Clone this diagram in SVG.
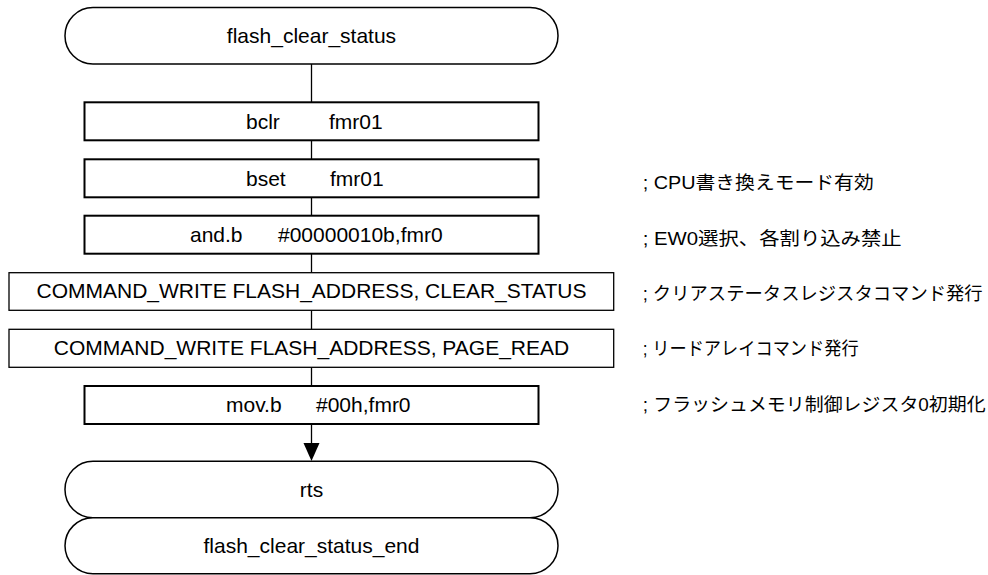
<svg xmlns="http://www.w3.org/2000/svg" width="988" height="575" viewBox="0 0 988 575">
<style>
.term{fill:#fff;stroke:#000;stroke-width:1.5}
.box{fill:#fff;stroke:#000;stroke-width:2}
.wbox{fill:#fff;stroke:#000;stroke-width:1.3}
.t{font-family:"Liberation Sans",Arial,sans-serif;font-size:21px;fill:#000}
.c{text-anchor:middle}
.cm{font-family:"Liberation Sans","Noto Sans CJK JP",sans-serif;font-size:18.5px;fill:#000}
.ln{stroke:#000;stroke-width:1.3;fill:none}
</style>
<rect width="988" height="575" fill="#fff"/>
<g id="connectors">
<line class="ln" x1="311.5" y1="64" x2="311.5" y2="102.3"/>
<line class="ln" x1="311.5" y1="140.3" x2="311.5" y2="159.3"/>
<line class="ln" x1="311.5" y1="197.3" x2="311.5" y2="215.7"/>
<line class="ln" x1="311.5" y1="253.7" x2="311.5" y2="272.7"/>
<line class="ln" x1="311.5" y1="310.3" x2="311.5" y2="329.3"/>
<line class="ln" x1="311.5" y1="367.3" x2="311.5" y2="386"/>
<line class="ln" x1="311.5" y1="424" x2="311.5" y2="444"/>
<polygon points="303.5,443 319.5,443 311.5,461" fill="#000"/>
</g>
<g id="start">
<rect class="term" x="65" y="7.5" width="493" height="56.5" rx="28" ry="28"/>
<text class="t c" x="311.5" y="43">flash_clear_status</text>
</g>
<g id="bclr">
<rect class="box" x="84.5" y="102.3" width="454" height="38"/>
<text class="t" y="128.5"><tspan x="246">bclr</tspan><tspan x="329">fmr01</tspan></text>
</g>
<g id="bset">
<rect class="box" x="84.5" y="159.3" width="454" height="38"/>
<text class="t" y="185.5"><tspan x="246">bset</tspan><tspan x="330">fmr01</tspan></text>
<text class="cm" x="642.7" y="189" textLength="231" lengthAdjust="spacingAndGlyphs">; CPU書き換えモード有効</text>
</g>
<g id="andb">
<rect class="box" x="84.5" y="215.7" width="454" height="38"/>
<text class="t" y="242"><tspan x="190">and.b</tspan><tspan x="278">#00000010b,fmr0</tspan></text>
<text class="cm" x="642.7" y="244.5" textLength="259" lengthAdjust="spacingAndGlyphs">; EW0選択、各割り込み禁止</text>
</g>
<g id="cmd_clear">
<rect class="wbox" x="9" y="272.7" width="604.7" height="37.6"/>
<text class="t c" x="311.5" y="298">COMMAND_WRITE FLASH_ADDRESS, CLEAR_STATUS</text>
<text class="cm" x="642.7" y="299.5" textLength="340" lengthAdjust="spacingAndGlyphs">; クリアステータスレジスタコマンド発行</text>
</g>
<g id="cmd_page">
<rect class="wbox" x="9" y="329.3" width="604.7" height="38"/>
<text class="t c" x="311.5" y="355">COMMAND_WRITE FLASH_ADDRESS, PAGE_READ</text>
<text class="cm" x="642.7" y="355" textLength="216" lengthAdjust="spacingAndGlyphs">; リードアレイコマンド発行</text>
</g>
<g id="movb">
<rect class="box" x="84.5" y="386" width="454" height="38"/>
<text class="t" y="412"><tspan x="226">mov.b</tspan><tspan x="316">#00h,fmr0</tspan></text>
<text class="cm" x="642.7" y="410.5" textLength="343" lengthAdjust="spacingAndGlyphs">; フラッシュメモリ制御レジスタ0初期化</text>
</g>
<g id="rts">
<rect class="term" x="65" y="461.3" width="493" height="56.4" rx="28" ry="28"/>
<text class="t c" x="311.5" y="496.5">rts</text>
</g>
<g id="end">
<rect class="term" x="65" y="517.7" width="493" height="56" rx="28" ry="28"/>
<text class="t c" x="311.5" y="553">flash_clear_status_end</text>
</g>
</svg>
